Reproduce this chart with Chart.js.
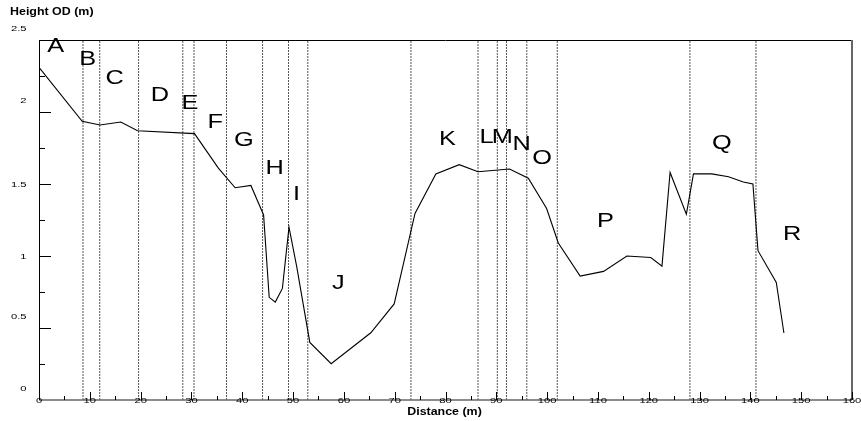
<!DOCTYPE html>
<html>
<head>
<meta charset="utf-8">
<script src="https://cdn.jsdelivr.net/npm/chart.js@4/dist/chart.umd.min.js"></script>
<style>
html,body{margin:0;padding:0;background:#fff;}
#wrap{width:861px;height:421px;}
</style>
</head>
<body>
<div id="wrap"><canvas id="c" width="861" height="421"></canvas></div>
<script>
// ---- data ----
const distance = [0, 8.5, 12.0, 16.1, 19.4, 30.6, 35.3, 38.6, 41.7, 44.2, 45.3, 46.5, 47.9, 49.2, 50.7, 53.3, 57.5, 65.3, 69.9, 74.0, 78.1, 82.7, 86.4, 92.6, 96.3, 99.9, 102.2, 106.5, 111.1, 115.7, 120.4, 122.6, 124.2, 127.4, 128.8, 132.4, 135.7, 138.6, 140.5, 141.5, 145.1, 146.6];
const heights = [2.31, 1.935, 1.91, 1.93, 1.87, 1.85, 1.61, 1.474, 1.49, 1.285, 0.713, 0.68, 0.775, 1.20, 0.93, 0.40, 0.252, 0.467, 0.667, 1.296, 1.57, 1.634, 1.585, 1.604, 1.54, 1.33, 1.09, 0.86, 0.893, 1.00, 0.99, 0.93, 1.58, 1.29, 1.57, 1.57, 1.55, 1.514, 1.50, 1.037, 0.817, 0.465];
const boundaries = [8.66, 11.95, 19.6, 28.3, 30.5, 36.9, 44.0, 49.1, 52.9, 73.2, 86.4, 90.2, 92.0, 96.0, 102.0, 128.1, 141.1];
const zoneLetters = ['A','B','C','D','E','F','G','H','I','J','K','L','M','N','O','P','Q','R'];
const zoneLetterX = [3.3, 9.6, 14.9, 23.8, 29.7, 34.7, 40.3, 46.4, 50.7, 58.9, 80.4, 88.1, 91.2, 95.0, 99.0, 111.5, 134.4, 148.2];
const zoneLetterY = [2.465, 2.376, 2.243, 2.128, 2.066, 1.939, 1.811, 1.617, 1.439, 0.822, 1.821, 1.832, 1.832, 1.788, 1.689, 1.25, 1.792, 1.158];
const xTicks = [0,10,20,30,40,50,60,70,80,90,100,110,120,130,140,150,160];
const yTicks = [0,0.5,1,1.5,2,2.5];
const yTickLabels = ['0','0.5','1','1.5','2','2.5'];
const xTitle = 'Distance (m)';
const yTitle = 'Height OD (m)';

// ---- datasets ----
const datasets = [{
  data: distance.map((d,i)=>({x:d,y:heights[i]})),
  borderColor:'#000', borderWidth:1.1, pointRadius:0, tension:0, fill:false, order:0
}];
boundaries.forEach(b=>{
  datasets.push({
    data:[{x:b,y:0},{x:b,y:2.5}],
    borderColor:'#555', borderWidth:1, borderDash:[2,1], pointRadius:0, fill:false, order:1
  });
});

function stretchText(ctx, text, x, y, sx, align){
  ctx.save();
  ctx.translate(x,y);
  ctx.scale(sx,1);
  ctx.textAlign = align || 'left';
  ctx.fillText(text,0,0);
  ctx.restore();
}

const decor = {
  id:'decor',
  afterDraw(chart){
    const ctx = chart.ctx;
    const xs = chart.scales.x, ys = chart.scales.y;
    const L = xs.getPixelForValue(0), R = xs.getPixelForValue(160);
    const B = ys.getPixelForValue(0), T = ys.getPixelForValue(2.5);
    ctx.save();
    // frame
    ctx.lineWidth = 1; ctx.strokeStyle = '#000';
    ctx.beginPath(); ctx.moveTo(L, T+0.5); ctx.lineTo(R, T+0.5); ctx.stroke();
    ctx.beginPath(); ctx.moveTo(L+0.5, T); ctx.lineTo(L+0.5, B); ctx.stroke();
    ctx.strokeStyle = '#666'; ctx.lineWidth = 2;
    ctx.beginPath(); ctx.moveTo(R, T); ctx.lineTo(R, B); ctx.stroke();
    ctx.lineWidth = 1.6;
    ctx.beginPath(); ctx.moveTo(L, B); ctx.lineTo(R, B); ctx.stroke();
    // x ticks
    ctx.strokeStyle = '#000'; ctx.lineWidth = 1;
    for(let v=0; v<=160; v+=5){
      const px = Math.round(xs.getPixelForValue(v))+0.5;
      const len = (v%10===0)?8:4;
      ctx.beginPath(); ctx.moveTo(px, B); ctx.lineTo(px, B-len); ctx.stroke();
    }
    // y ticks
    for(let v=0.25; v<2.5; v+=0.25){
      const py = Math.round(ys.getPixelForValue(v))+0.5;
      const major = Math.abs((v*2)-Math.round(v*2))<1e-6;
      ctx.beginPath(); ctx.moveTo(L, py); ctx.lineTo(L+(major?12:6), py); ctx.stroke();
    }
    // tick labels
    ctx.fillStyle = '#000';
    ctx.font = '8px "Liberation Sans", Arial, sans-serif';
    ctx.textBaseline = 'middle';
    xTicks.forEach(v=>{
      stretchText(ctx, String(v), xs.getPixelForValue(v), B+0.8, 1.4, 'center');
    });
    yTicks.forEach((v,i)=>{
      const off = (v===1 || v===1.5) ? 1 : -11;
      stretchText(ctx, yTickLabels[i], 26.5, ys.getPixelForValue(v)+off, 1.4, 'right');
    });
    // axis titles
    ctx.font = 'bold 10.2px "Liberation Sans", Arial, sans-serif';
    ctx.textBaseline = 'alphabetic';
    stretchText(ctx, yTitle, 10, 15.3, 1.22, 'left');
    stretchText(ctx, xTitle, (L+R)/2-1, 415, 1.22, 'center');
    // zone letters
    const fs = 19.5;
    ctx.font = fs+'px "Liberation Sans", Arial, sans-serif';
    zoneLetters.forEach((t,i)=>{
      const px = xs.getPixelForValue(zoneLetterX[i]);
      const py = ys.getPixelForValue(zoneLetterY[i]) + 0.358*fs;
      stretchText(ctx, t, px, py, 1.3, 'center');
    });
    ctx.restore();
  }
};

new Chart(document.getElementById('c'), {
  type:'line',
  data:{datasets},
  options:{
    responsive:false, animation:false, devicePixelRatio:1,
    parsing:true,
    layout:{padding:{left:39, top:40, right:9, bottom:21}},
    scales:{
      x:{type:'linear', min:0, max:160, display:false},
      y:{type:'linear', min:0, max:2.5, display:false}
    },
    plugins:{legend:{display:false}, tooltip:{enabled:false}, title:{display:false}},
    events:[]
  },
  plugins:[decor]
});
</script>
</body>
</html>
